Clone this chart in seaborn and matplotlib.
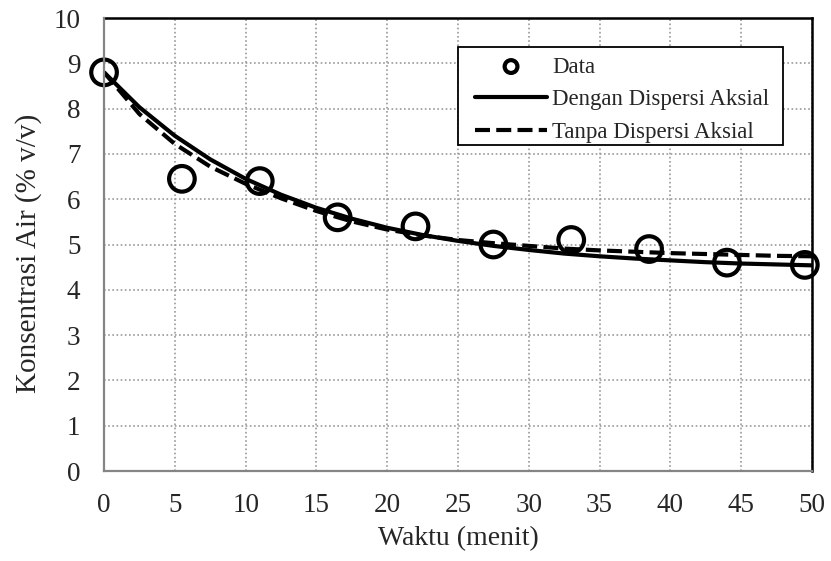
import matplotlib
matplotlib.use("Agg")
import matplotlib.pyplot as plt
from matplotlib.patches import Rectangle
import seaborn as sns

# Measured water concentration over time
t_data = [0.0, 5.5, 11.0, 16.5, 22.0, 27.5, 33.0, 38.5, 44.0, 49.5]
c_data = [8.80, 6.45, 6.40, 5.60, 5.40, 5.00, 5.10, 4.90, 4.60, 4.55]

# Model curves
t_model = [0.0, 2.5, 5.0, 7.5, 10.0, 12.5, 15.0, 17.5, 20.0, 22.5, 25.0,
           27.5, 30.0, 32.5, 35.0, 37.5, 40.0, 42.5, 45.0, 47.5, 50.0]
c_dispersi = [8.80, 8.03, 7.40, 6.88, 6.45, 6.10, 5.81, 5.57, 5.37, 5.21, 5.08,
              4.97, 4.88, 4.80, 4.74, 4.69, 4.65, 4.61, 4.58, 4.56, 4.54]
c_tanpa = [8.80, 7.88, 7.22, 6.72, 6.34, 6.02, 5.74, 5.51, 5.33, 5.20, 5.10,
           5.03, 4.97, 4.91, 4.87, 4.84, 4.81, 4.79, 4.77, 4.75, 4.74]

x_ticks = [0, 5, 10, 15, 20, 25, 30, 35, 40, 45, 50]
y_ticks = [0, 1, 2, 3, 4, 5, 6, 7, 8, 9, 10]

sns.set_style("white")
plt.rcParams["font.family"] = ["Liberation Serif", "DejaVu Serif"]

fig = plt.figure(figsize=(8.31, 5.61), dpi=100)
ax = fig.add_axes([0.1252, 0.1604, 0.8518, 0.8075])

sns.scatterplot(x=t_data, y=c_data, ax=ax, s=340, marker="o", color="black",
                facecolor="none", edgecolor="black", linewidth=3.0,
                label="Data", zorder=5, clip_on=False)
sns.lineplot(x=t_model, y=c_dispersi, ax=ax, color="black", linewidth=3.0,
             label="Dengan Dispersi Aksial", zorder=4, sort=False, estimator=None)
sns.lineplot(x=t_model, y=c_tanpa, ax=ax, color="black", linewidth=3.0,
             linestyle=(0, (3.6, 1.5)), label="Tanpa Dispersi Aksial",
             zorder=3, sort=False, estimator=None)

ax.set_xlim(0, 50)
ax.set_ylim(0, 10)
ax.set_xticks(x_ticks)
ax.set_yticks(y_ticks)
ax.tick_params(axis="both", length=0, labelsize=19.5)
ax.tick_params(axis="x", pad=16)
ax.tick_params(axis="y", pad=17)

ax.grid(True, linestyle=(0, (1, 1.5)), color="#9a9a9a", linewidth=1.2, zorder=0)
ax.set_axisbelow(True)

for side in ("left", "bottom"):
    ax.spines[side].set_color("#858585")
    ax.spines[side].set_linewidth(1.6)
    ax.spines[side].set_zorder(6)
for side in ("top", "right"):
    ax.spines[side].set_color("black")
    ax.spines[side].set_linewidth(1.8)

ax.set_xlabel("Waktu (menit)", fontsize=20, labelpad=6)
ax.set_ylabel("Konsentrasi Air (% v/v)", fontsize=21)
ax.yaxis.set_label_coords(-0.087, 0.48)

# Legend frame drawn as its own box, legend entries placed inside it
ax.add_patch(Rectangle((0.5, 0.719), 0.459, 0.217, transform=ax.transAxes,
                       facecolor="white", edgecolor="black", linewidth=1.3,
                       zorder=7, clip_on=False))
leg = ax.legend(loc="upper left", bbox_to_anchor=(0.524, 0.915),
                fontsize=16.5, frameon=False, markerscale=0.5,
                handlelength=3.15, handletextpad=0.22, labelspacing=0.515,
                borderpad=0, borderaxespad=0)
leg.set_zorder(8)

fig.savefig("out.png", dpi=100)
